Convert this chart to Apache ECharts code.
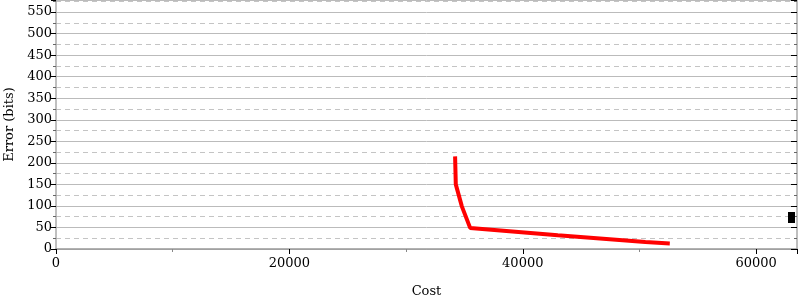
<!DOCTYPE html>
<html>
<head>
<meta charset="utf-8">
<script src="https://cdn.jsdelivr.net/npm/echarts@6/dist/echarts.min.js"></script>
<style>
  html, body { margin: 0; padding: 0; background: #fff; }
  #chart { width: 800px; height: 300px; }
</style>
</head>
<body>
<div id="chart"></div>
<script>
// 数据：成本 vs 误差
var costs = [34200, 34260, 34780, 35490, 43000, 50500, 52600]
var errors = [215, 150, 99, 49, 32, 16, 13]
var seriesName = 'Error'

var points = costs.map(function (c, i) { return [c, errors[i]] })

var font = 'DejaVu Serif'
var chart = echarts.init(document.getElementById('chart'))

chart.setOption({
    animation: false,
    textStyle: { fontFamily: font },
    grid: { left: 56, right: 3, top: 0, bottom: 51, containLabel: false, outerBoundsMode: 'none' },
    xAxis: {
        type: 'value',
        min: 0,
        max: 63500,
        interval: 20000,
        name: 'Cost',
        nameLocation: 'middle',
        nameGap: 36,
        nameTextStyle: { fontFamily: font, fontSize: 13, color: '#000' },
        axisLine: { lineStyle: { color: '#999', width: 1.5 } },
        axisTick: { length: 5, lineStyle: { color: '#000' } },
        minorTick: { show: true, splitNumber: 2, length: 3, lineStyle: { color: '#888' } },
        axisLabel: {
            fontFamily: font, fontSize: 13, color: '#000', margin: 8,
            formatter: function (v) { return String(v) }
        },
        splitLine: { show: false }
    },
    yAxis: [
        {
            type: 'value',
            min: 0,
            max: 578,
            interval: 50,
            name: 'Error (bits)',
            nameLocation: 'middle',
            nameGap: 38,
            nameTextStyle: { fontFamily: font, fontSize: 13, color: '#000' },
            axisLine: { show: true, lineStyle: { color: '#aaa', width: 1.5 } },
            axisTick: { length: 5, lineStyle: { color: '#000' } },
            minorTick: { show: true, splitNumber: 2, length: 3, lineStyle: { color: '#666' } },
            axisLabel: { fontFamily: font, fontSize: 13, color: '#000', margin: 4, showMaxLabel: false },
            splitLine: { show: true, lineStyle: { color: '#bbb', width: 1 } },
            minorSplitLine: { show: true, lineStyle: { color: '#c4c4c4', type: [5, 4] } }
        },
        {
            type: 'value',
            position: 'right',
            min: 0,
            max: 578,
            interval: 50,
            axisLine: { show: true, lineStyle: { color: '#aaa', width: 1.5 } },
            axisTick: { inside: true, length: 6, lineStyle: { color: '#000' } },
            minorTick: { show: true, splitNumber: 2, length: 3, lineStyle: { color: '#666' } },
            axisLabel: { show: false },
            splitLine: { show: false }
        }
    ],
    legend: {
        right: 0,
        top: 207,
        itemWidth: 7,
        itemHeight: 11,
        itemGap: 0,
        formatter: function () { return '' },
        data: [{ name: seriesName, icon: 'rect', itemStyle: { color: '#000' } }]
    },
    series: [
        {
            name: seriesName,
            type: 'line',
            data: points,
            showSymbol: false,
            lineStyle: { color: '#ff0000', width: 4 },
            itemStyle: { color: '#000' }
        }
    ]
})
</script>
</body>
</html>
